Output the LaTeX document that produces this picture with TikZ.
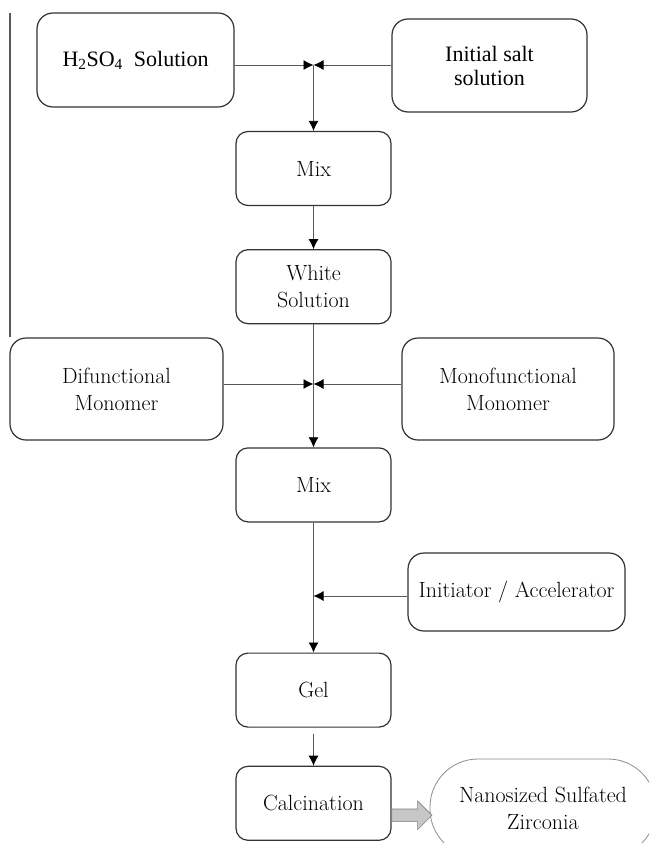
\documentclass[tikz,border=0pt]{standalone}
\usepackage{fontspec}
\newfontfamily\timesfont{Liberation Serif}
\usetikzlibrary{arrows.meta, positioning, shapes.arrows}

\tikzset{
  box/.style={draw=black!80, line width=1.2pt, rounded corners=12pt, align=center,
    inner sep=2pt, font=\fontsize{22}{27}\selectfont},
  proc/.style={box, minimum width=155pt, minimum height=74pt},
  feed/.style={box, rounded corners=16pt, minimum height=102pt},
  tfeed/.style={feed, font=\timesfont\fontsize{22}{24}\selectfont},
  link/.style={draw=black!65, line width=0.8pt},
  tip/.style={link, -{Latex[length=10pt,width=10pt,color=black]}},
}

\begin{document}
\begin{tikzpicture}[x=1pt, y=-1pt]
    \useasboundingbox (0,0) rectangle (649,843);
    \clip (0,0) rectangle (649,843);

    % Main process column
    \node[proc] (mix1) at (313.5,168.5) {Mix};
    \node[proc, below=43pt of mix1]   (white) {White\\Solution};
    \node[proc, below=123pt of white] (mix2)  {Mix};
    \node[proc, below=130pt of mix2]  (gel)   {Gel};
    \node[proc, below=38pt of gel]    (calc)  {Calcination};

    % Feeds
    \node[tfeed, minimum width=197pt, minimum height=94pt] (h2so4) at (135.5,60)
        {H\textsubscript{2}SO\textsubscript{4}~~Solution};
    \node[tfeed, minimum width=195pt, minimum height=93pt] (salt) at (489.5,65.5)
        {Initial salt\\solution};
    \node[feed, minimum width=213pt] (difun) at (116.5,389) {Difunctional\\Monomer};
    \node[feed, minimum width=212pt] (mono)  at (508,389)   {Monofunctional\\Monomer};
    \node[feed, minimum width=217pt, minimum height=78pt] (init) at (516.5,592)
        {Initiator / Accelerator};

    % Product
    \node[box, draw=black!45, line width=0.8pt, rounded corners=48pt,
          minimum width=226pt, minimum height=98pt] (nano) at (543,808)
        {Nanosized Sulfated\\Zirconia};
    \node[single arrow, draw=black!50, fill=black!22, line width=0.6pt, inner sep=6pt,
          minimum height=40pt, single arrow head extend=8pt, anchor=west]
        (push) at ([yshift=-12pt]calc.east) {};

    % Junctions
    \coordinate (jn1) at (313.5,65);
    \coordinate (jn2) at (313.5,384);
    \coordinate (jn3) at (313.5,596);
    \coordinate (fbtop) at (10,13);

    % Connect the boxes
    \draw[tip] (h2so4.east |- jn1) -- (jn1);
    \draw[tip] (salt.west |- jn1) -- (jn1);
    \draw[tip] (jn1) -- (mix1);
    \draw[tip] (mix1) -- (white);
    \draw[tip] (white) -- (mix2);
    \draw[tip] (difun.east |- jn2) -- (jn2);
    \draw[tip] (mono.west |- jn2) -- (jn2);
    \draw[tip] (mix2) -- (gel);
    \draw[tip] (init.west |- jn3) -- (jn3);
    \draw[tip, shorten <=6pt] (gel) -- (calc);
    \draw[link, line width=1.2pt] (fbtop) -- (fbtop |- difun.north);
\end{tikzpicture}
\end{document}
